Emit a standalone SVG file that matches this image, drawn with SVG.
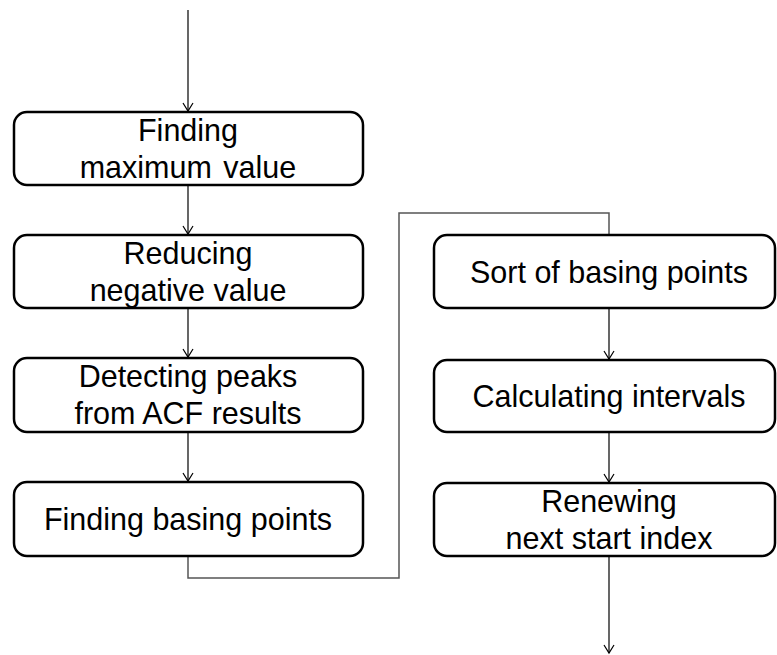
<svg xmlns="http://www.w3.org/2000/svg" width="777" height="655" viewBox="0 0 777 655">
<style>
.box{fill:#fff;stroke:#000;stroke-width:2.5}
.t{font-family:"Liberation Sans",Arial,sans-serif;font-size:30.5px;fill:#000;text-anchor:middle}
.c{fill:none;stroke:#000;stroke-width:1.2}
.loop{fill:none;stroke:#555;stroke-width:1.5}
</style>
<defs>
<marker id="ah" markerWidth="12" markerHeight="12" refX="10" refY="6" orient="auto" markerUnits="userSpaceOnUse" viewBox="0 0 12 12">
<path d="M2,1 L10,6 L2,11" fill="none" stroke="#000" stroke-width="1.2"/>
</marker>
</defs>
<rect width="777" height="655" fill="#fff"/>
<g id="connectors">
<line class="c" x1="188" y1="10" x2="188" y2="111" marker-end="url(#ah)"/>
<line class="c" x1="188" y1="185" x2="188" y2="234" marker-end="url(#ah)"/>
<line class="c" x1="188" y1="308" x2="188" y2="357" marker-end="url(#ah)"/>
<line class="c" x1="188" y1="432" x2="188" y2="481" marker-end="url(#ah)"/>
<polyline class="loop" points="188,556 188,578 399,578 399,213 609,213 609,235"/>
<line class="c" x1="609" y1="308" x2="609" y2="359" marker-end="url(#ah)"/>
<line class="c" x1="609" y1="432" x2="609" y2="482" marker-end="url(#ah)"/>
<line class="c" x1="609" y1="556" x2="609" y2="653" marker-end="url(#ah)"/>
</g>
<g id="n1"><rect class="box" x="14" y="112" width="349" height="73" rx="13"/>
<text class="t" x="188" y="141">Finding</text><text class="t" x="188" y="178">maximum <tspan dx="3">value</tspan></text></g>
<g id="n2"><rect class="box" x="14" y="235" width="349" height="73" rx="13"/>
<text class="t" x="188" y="264">Reducing</text><text class="t" x="188" y="301">negative value</text></g>
<g id="n3"><rect class="box" x="14" y="358" width="349" height="74" rx="13"/>
<text class="t" x="188" y="387">Detecting peaks</text><text class="t" x="188" y="424">from ACF results</text></g>
<g id="n4"><rect class="box" x="14" y="482" width="349" height="74" rx="13"/>
<text class="t" x="188" y="530">Finding basing points</text></g>
<g id="n5"><rect class="box" x="434" y="235" width="341" height="73" rx="13"/>
<text class="t" x="609" y="283">Sort of basing points</text></g>
<g id="n6"><rect class="box" x="434" y="360" width="341" height="72" rx="13"/>
<text class="t" x="609" y="407">Calculating intervals</text></g>
<g id="n7"><rect class="box" x="434" y="483" width="341" height="73" rx="13"/>
<text class="t" x="609" y="512">Renewing</text><text class="t" x="609" y="549">next start index</text></g>
</svg>
